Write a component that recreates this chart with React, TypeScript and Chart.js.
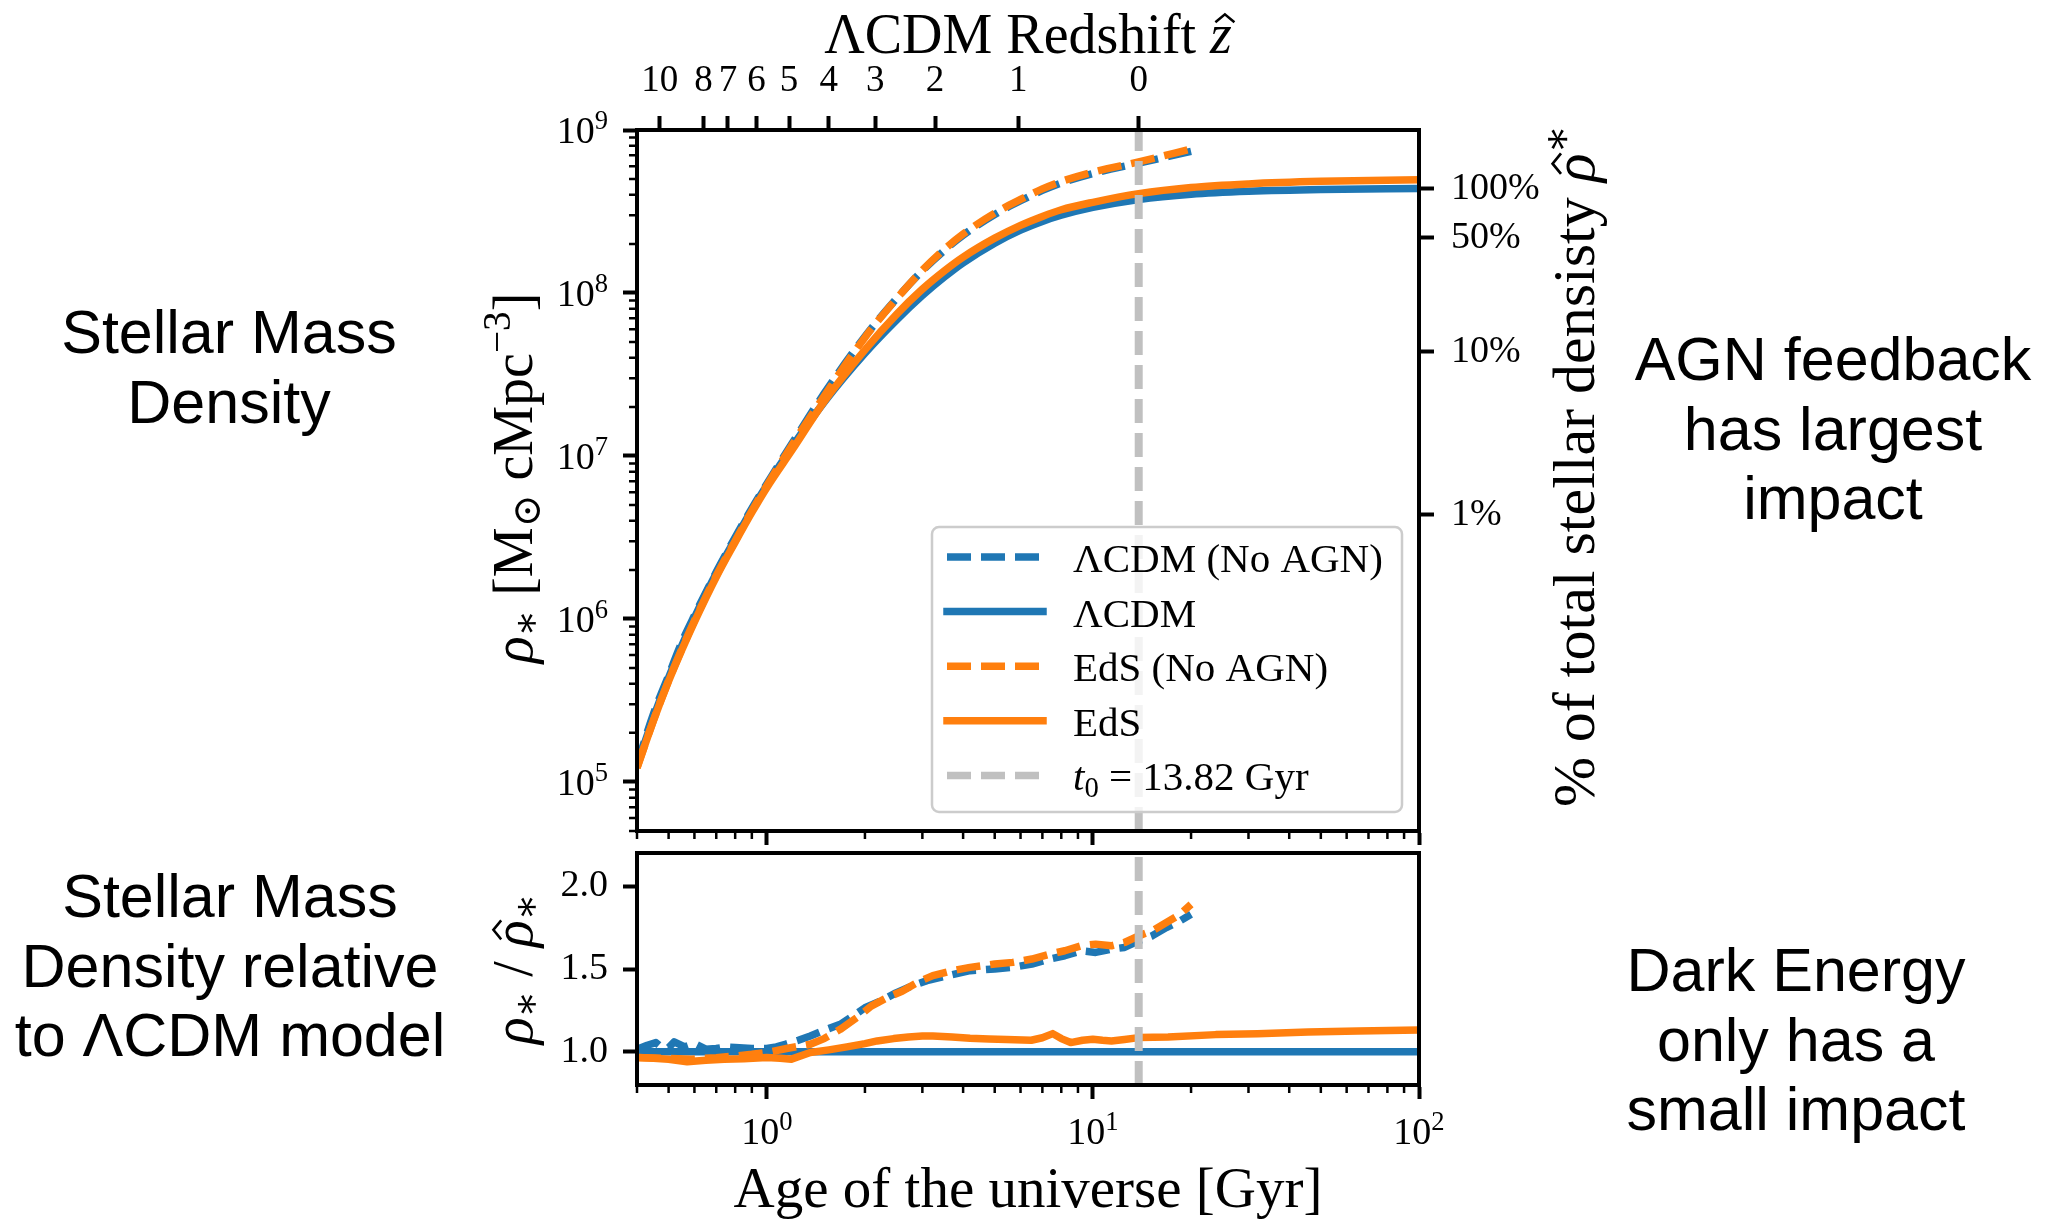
import React, { useEffect, useRef } from 'react';
import { Chart, registerables } from 'chart.js';

Chart.register(...registerables);

// ---------------- data ----------------
// Upper panel: stellar mass density [Msun cMpc^-3] vs age of the universe [Gyr]
const AGES = [0.4, 0.45, 0.5, 0.55, 0.6, 0.7, 0.8, 0.9, 1.0, 1.2, 1.5, 2.0, 2.5, 3.0, 3.5, 4.0, 5.0, 6.0, 7.0, 8.0, 10, 13.82, 20, 30, 50, 100];
const RHO_LCDM = [1.26e5, 2.51e5, 4.37e5, 6.92e5, 1.02e6, 1.91e6, 3.09e6, 4.68e6, 6.61e6, 1.15e7, 2.14e7, 4.27e7, 6.82e7, 9.64e7, 1.25e8, 1.53e8, 2.02e8, 2.43e8, 2.75e8, 3.00e8, 3.35e8, 3.75e8, 4.04e8, 4.21e8, 4.32e8, 4.38e8];
const RHO_EDS = [1.22e5, 2.40e5, 4.15e5, 6.52e5, 9.6e5, 1.81e6, 2.96e6, 4.50e6, 6.39e6, 1.10e7, 2.16e7, 4.48e7, 7.40e7, 1.056e8, 1.365e8, 1.66e8, 2.17e8, 2.60e8, 2.95e8, 3.24e8, 3.60e8, 4.07e8, 4.44e8, 4.67e8, 4.84e8, 4.96e8];
const AGES_NO_AGN = [0.4, 0.45, 0.5, 0.55, 0.6, 0.7, 0.8, 0.9, 1.0, 1.2, 1.5, 2.0, 2.5, 3.0, 3.5, 4.0, 5.0, 6.0, 7.0, 8.0, 10, 13.82, 20];
const RHO_LCDM_NO_AGN = [1.28e5, 2.64e5, 4.50e5, 7.27e5, 1.05e6, 1.94e6, 3.17e6, 4.77e6, 6.74e6, 1.21e7, 2.42e7, 5.41e7, 9.25e7, 1.37e8, 1.82e8, 2.26e8, 3.03e8, 3.68e8, 4.26e8, 4.73e8, 5.41e8, 6.26e8, 7.39e8];
const RHO_EDS_NO_AGN = [1.22e5, 2.41e5, 4.19e5, 6.6e5, 9.75e5, 1.84e6, 3.01e6, 4.6e6, 6.58e6, 1.18e7, 2.33e7, 5.34e7, 9.21e7, 1.38e8, 1.85e8, 2.30e8, 3.09e8, 3.75e8, 4.35e8, 4.83e8, 5.51e8, 6.38e8, 7.64e8];

// Lower panel: ratio to the LCDM model
const RATIO_LCDM_AGES = [0.4, 100];
const RATIO_LCDM = [1.0, 1.0];
const RATIO_EDS_AGES = [0.4, 0.45, 0.5, 0.57, 0.65, 0.74, 0.85, 1.0, 1.1, 1.19, 1.36, 1.55, 1.76, 2.0, 2.18, 2.45, 2.72, 3.0, 3.23, 3.7, 4.2, 4.8, 5.44, 6.47, 7.0, 7.53, 8.0, 8.55, 9.3, 10, 10.7, 11.4, 12.5, 13.82, 17, 23.8, 32, 45.7, 65, 100];
const RATIO_EDS = [0.966, 0.962, 0.955, 0.94, 0.95, 0.956, 0.958, 0.966, 0.962, 0.956, 0.996, 1.012, 1.03, 1.05, 1.066, 1.08, 1.09, 1.095, 1.096, 1.09, 1.082, 1.078, 1.074, 1.07, 1.085, 1.11, 1.08, 1.056, 1.07, 1.076, 1.07, 1.066, 1.075, 1.086, 1.09, 1.104, 1.11, 1.12, 1.126, 1.132];
const RATIO_LCDM_NO_AGN_AGES = [0.4, 0.43, 0.457, 0.48, 0.5, 0.52, 0.56, 0.6, 0.65, 0.7, 0.75, 0.8, 0.9, 1.0, 1.07, 1.14, 1.25, 1.36, 1.5, 1.68, 1.85, 2.0, 2.25, 2.49, 2.8, 3.1, 3.6, 4.2, 5.0, 5.68, 6.5, 7.37, 8.2, 9.2, 10.2, 11.4, 12.5, 13.82, 15.2, 16.8, 18.5, 20];
const RATIO_LCDM_NO_AGN = [1.016, 1.04, 1.056, 1.02, 1.026, 1.06, 1.03, 1.05, 1.016, 1.02, 1.03, 1.026, 1.02, 1.02, 1.03, 1.046, 1.07, 1.096, 1.13, 1.166, 1.22, 1.266, 1.31, 1.356, 1.40, 1.43, 1.46, 1.49, 1.50, 1.51, 1.53, 1.56, 1.58, 1.61, 1.60, 1.62, 1.63, 1.67, 1.70, 1.75, 1.79, 1.83];
const RATIO_EDS_NO_AGN_AGES = [0.4, 0.5, 0.59, 0.7, 0.8, 0.9, 1.0, 1.15, 1.36, 1.5, 1.68, 1.9, 2.09, 2.35, 2.6, 2.9, 3.23, 3.7, 4.2, 5.0, 5.68, 6.5, 7.37, 8.2, 9.2, 10.2, 11.4, 12.5, 13.82, 15.2, 16.8, 18.5, 20];
const RATIO_EDS_NO_AGN = [0.966, 0.96, 0.956, 0.965, 0.975, 0.985, 0.996, 1.02, 1.046, 1.08, 1.136, 1.21, 1.276, 1.33, 1.366, 1.42, 1.46, 1.49, 1.51, 1.53, 1.54, 1.56, 1.59, 1.61, 1.64, 1.65, 1.64, 1.66, 1.70, 1.73, 1.78, 1.83, 1.89];

const T0 = 13.82;

// Axes / ticks
const Z_TICK_AGES = [0.47, 0.64, 0.76, 0.93, 1.17, 1.55, 2.15, 3.28, 5.9, 13.82];
const Z_TICK_LABELS = ['10', '8', '7', '6', '5', '4', '3', '2', '1', '0'];
const RHO_TOTAL = 4.35e8;
const PCT_FRACTIONS = [1, 0.5, 0.1, 0.01];
const PCT_LABELS = ['100%', '50%', '10%', '1%'];
const Y_MAIN_EXPONENTS = [5, 6, 7, 8, 9];
const X_EXPONENTS = [0, 1, 2];
const RATIO_TICKS = [1.0, 1.5, 2.0];
const MINOR_MANTISSAS = [2, 3, 4, 5, 6, 7, 8, 9];

const NOTES = [
  { lines: ['Stellar Mass', 'Density'], cx: 229, top: 298 },
  { lines: ['AGN feedback', 'has largest', 'impact'], cx: 1833, top: 325 },
  { lines: ['Stellar Mass', 'Density relative', 'to ΛCDM model'], cx: 230, top: 862 },
  { lines: ['Dark Energy', 'only has a', 'small impact'], cx: 1796, top: 936 },
];

// ---------------- style ----------------
const SERIF = '"Liberation Serif", "DejaVu Serif", serif';
const SANS = '"Liberation Sans", Arial, sans-serif';
const BLUE = '#1f77b4';
const ORANGE = '#ff7f0e';
const GRAY = '#c0c0c0';
const W = 2060;
const H = 1220;
const AREA1 = { left: 637, right: 1419, top: 130, bottom: 831 };
const AREA2 = { left: 637, right: 1419, top: 853, bottom: 1085 };
const TICK_FONT = 38;
const LINE_W = 7.5;
const DASH = [24, 10];

type Run = { t: string; s?: number; dy?: number; it?: boolean; hat?: boolean };

const TITLE_TOP: Run[] = [{ t: 'ΛCDM Redshift ' }, { t: 'z', it: true, hat: true }];
const YLABEL_MAIN: Run[] = [
  { t: 'ρ', it: true }, { t: '∗', s: 0.7, dy: 0.12 }, { t: ' [M' }, { t: '⊙', s: 0.7, dy: 0.15 },
  { t: ' cMpc' }, { t: '−3', s: 0.7, dy: -0.4 }, { t: ']' },
];
const YLABEL_RIGHT: Run[] = [{ t: '% of total stellar densisty ' }, { t: 'ρ', it: true, hat: true }, { t: '∗', s: 0.7, dy: -0.38 }];
const YLABEL_RATIO: Run[] = [
  { t: 'ρ', it: true }, { t: '∗', s: 0.7, dy: 0.12 }, { t: ' / ' }, { t: 'ρ', it: true, hat: true }, { t: '∗', s: 0.7, dy: 0.12 },
];
const XLABEL: Run[] = [{ t: 'Age of the universe [Gyr]' }];

const LEGEND_ITEMS: { runs: Run[]; color: string; dashed: boolean }[] = [
  { runs: [{ t: 'ΛCDM (No AGN)' }], color: BLUE, dashed: true },
  { runs: [{ t: 'ΛCDM' }], color: BLUE, dashed: false },
  { runs: [{ t: 'EdS (No AGN)' }], color: ORANGE, dashed: true },
  { runs: [{ t: 'EdS' }], color: ORANGE, dashed: false },
  { runs: [{ t: 't', it: true }, { t: '0', s: 0.7, dy: 0.15 }, { t: ' = 13.82 Gyr' }], color: GRAY, dashed: true },
];

function fontOf(r: Run, base: number) {
  return `${r.it ? 'italic ' : ''}${(base * (r.s ?? 1)).toFixed(2)}px ${SERIF}`;
}

function drawRuns(ctx: CanvasRenderingContext2D, runs: Run[], base: number, x: number, y: number, align: 'left' | 'center' | 'right') {
  let total = 0;
  const widths = runs.map((r) => {
    ctx.font = fontOf(r, base);
    const w = ctx.measureText(r.t).width;
    total += w;
    return w;
  });
  let cx = align === 'left' ? x : align === 'center' ? x - total / 2 : x - total;
  ctx.textAlign = 'left';
  ctx.textBaseline = 'alphabetic';
  ctx.fillStyle = '#000';
  runs.forEach((r, i) => {
    const size = base * (r.s ?? 1);
    const by = y + (r.dy ?? 0) * base;
    ctx.font = fontOf(r, base);
    ctx.fillText(r.t, cx, by);
    if (r.hat) {
      const hx = cx + widths[i] / 2 + (r.it ? 0.07 * size : 0);
      ctx.beginPath();
      ctx.moveTo(hx - 0.17 * size, by - 0.55 * size);
      ctx.lineTo(hx, by - 0.69 * size);
      ctx.lineTo(hx + 0.17 * size, by - 0.55 * size);
      ctx.lineWidth = 0.045 * size;
      ctx.strokeStyle = '#000';
      ctx.lineJoin = 'miter';
      ctx.stroke();
    }
    cx += widths[i];
  });
}

function drawRotated(ctx: CanvasRenderingContext2D, runs: Run[], base: number, x: number, y: number) {
  ctx.save();
  ctx.translate(x, y);
  ctx.rotate(-Math.PI / 2);
  drawRuns(ctx, runs, base, 0, 0, 'center');
  ctx.restore();
}

function series(xs: number[], ys: number[], color: string, dashed: boolean, order: number, label: string, smooth: boolean, width = LINE_W) {
  return {
    label,
    data: xs.map((x, i) => ({ x, y: ys[i] })),
    borderColor: color,
    backgroundColor: color,
    borderWidth: width,
    borderDash: dashed ? DASH : [],
    borderCapStyle: 'butt',
    borderJoinStyle: 'round',
    pointRadius: 0,
    pointHoverRadius: 0,
    showLine: true,
    fill: false,
    order,
    tension: 0,
    cubicInterpolationMode: smooth ? 'monotone' : 'default',
    clip: 0,
  };
}

const tickGrid = (len: number) => ({
  display: true,
  drawOnChartArea: false,
  drawTicks: true,
  tickLength: len,
  tickWidth: 4,
  tickColor: '#000',
});
const borderOpt = { display: true, color: '#000', width: 4 };

function minorValues(lo: number, hi: number) {
  const out: number[] = [];
  for (let d = Math.floor(Math.log10(lo)) - 1; d <= Math.ceil(Math.log10(hi)); d++) {
    for (const m of MINOR_MANTISSAS) {
      const v = m * Math.pow(10, d);
      if (v >= lo * 0.999 && v <= hi * 1.001) out.push(v);
    }
  }
  return out;
}

function drawFrameAndMinor(chart: any, yMinor: boolean) {
  const { ctx, chartArea: a, scales } = chart;
  ctx.save();
  ctx.strokeStyle = '#000';
  ctx.lineWidth = 4;
  ctx.strokeRect(a.left, a.top, a.right - a.left, a.bottom - a.top);
  ctx.lineWidth = 2.5;
  ctx.beginPath();
  for (const v of minorValues(scales.x.min, scales.x.max)) {
    const px = scales.x.getPixelForValue(v);
    ctx.moveTo(px, a.bottom);
    ctx.lineTo(px, a.bottom + 8);
  }
  if (yMinor) {
    for (const v of minorValues(scales.y.min, scales.y.max)) {
      const py = scales.y.getPixelForValue(v);
      ctx.moveTo(a.left, py);
      ctx.lineTo(a.left - 8, py);
    }
  }
  ctx.stroke();
  ctx.restore();
}

const plugin1 = {
  id: 'decorMain',
  afterDatasetsDraw(chart: any) {
    drawFrameAndMinor(chart, true);
  },
  afterDraw(chart: any) {
    const { ctx, scales } = chart;
    ctx.save();
    // y tick labels 10^n
    for (const e of Y_MAIN_EXPONENTS) {
      const py = scales.y.getPixelForValue(Math.pow(10, e));
      drawRuns(ctx, [{ t: '10' }, { t: String(e), s: 0.7, dy: -0.36 }], TICK_FONT, 608, py + 13, 'right');
    }
    // titles
    drawRuns(ctx, TITLE_TOP, 56, 1028, 53, 'center');
    drawRotated(ctx, YLABEL_MAIN, 56, 532, 478);
    drawRotated(ctx, YLABEL_RIGHT, 60, 1594, 466);
    // legend
    const bx = 932, by = 527, bw = 470, bh = 285;
    ctx.beginPath();
    ctx.roundRect(bx, by, bw, bh, 7);
    ctx.fillStyle = 'rgba(255,255,255,0.8)';
    ctx.fill();
    ctx.strokeStyle = '#cccccc';
    ctx.lineWidth = 2.5;
    ctx.stroke();
    LEGEND_ITEMS.forEach((item, i) => {
      const ry = 557 + i * 54.6;
      ctx.beginPath();
      ctx.strokeStyle = item.color;
      ctx.lineWidth = LINE_W;
      ctx.setLineDash(item.dashed ? DASH : []);
      ctx.lineCap = item.dashed ? 'butt' : 'square';
      ctx.moveTo(947, ry);
      ctx.lineTo(item.dashed ? 1046 : 1043, ry);
      ctx.stroke();
      ctx.setLineDash([]);
      ctx.lineCap = 'butt';
      drawRuns(ctx, item.runs, 41, 1073, ry + 15, 'left');
    });
    ctx.restore();
  },
};

const plugin2 = {
  id: 'decorRatio',
  afterDatasetsDraw(chart: any) {
    drawFrameAndMinor(chart, false);
  },
  afterDraw(chart: any) {
    const { ctx, scales } = chart;
    ctx.save();
    for (const e of X_EXPONENTS) {
      const px = scales.x.getPixelForValue(Math.pow(10, e));
      drawRuns(ctx, [{ t: '10' }, { t: String(e), s: 0.7, dy: -0.36 }], TICK_FONT, px, 1144, 'center');
    }
    drawRuns(ctx, XLABEL, 57, 1028, 1207, 'center');
    drawRotated(ctx, YLABEL_RATIO, 56, 532, 969);
    ctx.restore();
  },
};

function baseOptions() {
  return {
    responsive: false,
    maintainAspectRatio: false,
    animation: false as const,
    devicePixelRatio: 1,
    events: [] as any[],
    plugins: { legend: { display: false }, tooltip: { enabled: false } },
  };
}

function mainConfig(): any {
  return {
    type: 'scatter',
    data: {
      datasets: [
        series([T0, T0], [5e4, 1e9], GRAY, true, 0, 't0 = 13.82 Gyr', false, 8),
        series(AGES, RHO_EDS, ORANGE, false, 1, 'EdS', true),
        series(AGES_NO_AGN, RHO_EDS_NO_AGN, ORANGE, true, 2, 'EdS (No AGN)', true),
        series(AGES, RHO_LCDM, BLUE, false, 3, 'ΛCDM', true),
        series(AGES_NO_AGN, RHO_LCDM_NO_AGN, BLUE, true, 4, 'ΛCDM (No AGN)', true),
      ],
    },
    options: {
      ...baseOptions(),
      layout: { padding: 0 },
      scales: {
        x: {
          type: 'logarithmic', position: 'bottom', min: 0.4, max: 100, bounds: 'data',
          afterBuildTicks: (s: any) => { s.ticks = X_EXPONENTS.map((e) => ({ value: Math.pow(10, e) })); },
          ticks: { display: false },
          grid: tickGrid(14), border: borderOpt,
          afterFit: (s: any) => { s.height = H - AREA1.bottom; },
        },
        xT: {
          type: 'logarithmic', position: 'top', min: 0.4, max: 100, bounds: 'data',
          afterBuildTicks: (s: any) => { s.ticks = Z_TICK_AGES.map((v) => ({ value: v })); },
          ticks: {
            display: true, autoSkip: false, maxRotation: 0, minRotation: 0, padding: 13, color: '#000',
            font: { family: SERIF, size: 37 },
            callback: (_v: any, i: number) => Z_TICK_LABELS[i],
          },
          grid: tickGrid(14), border: borderOpt,
          afterFit: (s: any) => { s.height = AREA1.top; },
        },
        y: {
          type: 'logarithmic', position: 'left', min: 5e4, max: 1e9, bounds: 'data',
          afterBuildTicks: (s: any) => { s.ticks = Y_MAIN_EXPONENTS.map((e) => ({ value: Math.pow(10, e) })); },
          ticks: { display: false },
          grid: tickGrid(14), border: borderOpt,
          afterFit: (s: any) => { s.width = AREA1.left; },
        },
        yR: {
          type: 'logarithmic', position: 'right', min: 5e4, max: 1e9, bounds: 'data',
          afterBuildTicks: (s: any) => { s.ticks = PCT_FRACTIONS.map((f) => ({ value: RHO_TOTAL * f })); },
          ticks: {
            display: true, autoSkip: false, maxRotation: 0, padding: 17, color: '#000',
            font: { family: SERIF, size: TICK_FONT },
            callback: (_v: any, i: number) => PCT_LABELS[i],
          },
          grid: tickGrid(15), border: borderOpt,
          afterFit: (s: any) => { s.width = W - AREA1.right; },
        },
      },
    },
    plugins: [plugin1],
  };
}

function ratioConfig(): any {
  return {
    type: 'scatter',
    data: {
      datasets: [
        series([T0, T0], [0.8, 2.2], GRAY, true, 0, 't0', false, 8),
        series(RATIO_EDS_AGES, RATIO_EDS, ORANGE, false, 1, 'EdS', false),
        series(RATIO_EDS_NO_AGN_AGES, RATIO_EDS_NO_AGN, ORANGE, true, 2, 'EdS (No AGN)', false),
        series(RATIO_LCDM_AGES, RATIO_LCDM, BLUE, false, 3, 'ΛCDM', false),
        series(RATIO_LCDM_NO_AGN_AGES, RATIO_LCDM_NO_AGN, BLUE, true, 4, 'ΛCDM (No AGN)', false),
      ],
    },
    options: {
      ...baseOptions(),
      layout: { padding: { top: AREA2.top, right: W - AREA2.right, left: 0, bottom: 0 } },
      scales: {
        x: {
          type: 'logarithmic', position: 'bottom', min: 0.4, max: 100, bounds: 'data',
          afterBuildTicks: (s: any) => { s.ticks = X_EXPONENTS.map((e) => ({ value: Math.pow(10, e) })); },
          ticks: { display: false },
          grid: tickGrid(14), border: borderOpt,
          afterFit: (s: any) => { s.height = H - AREA2.bottom; },
        },
        y: {
          type: 'linear', position: 'left', min: 0.8, max: 2.2, bounds: 'data',
          afterBuildTicks: (s: any) => { s.ticks = RATIO_TICKS.map((v) => ({ value: v })); },
          ticks: {
            display: true, autoSkip: false, padding: 15, color: '#000',
            font: { family: SERIF, size: TICK_FONT },
            callback: (v: any) => Number(v).toFixed(1),
          },
          grid: tickGrid(14), border: borderOpt,
          afterFit: (s: any) => { s.width = AREA2.left; },
        },
      },
    },
    plugins: [plugin2],
  };
}

export default function App() {
  const c1 = useRef<HTMLCanvasElement>(null);
  const c2 = useRef<HTMLCanvasElement>(null);

  useEffect(() => {
    const ch1 = new Chart(c1.current as HTMLCanvasElement, mainConfig());
    const ch2 = new Chart(c2.current as HTMLCanvasElement, ratioConfig());
    return () => {
      ch1.destroy();
      ch2.destroy();
    };
  }, []);

  return (
    <div style={{ position: 'absolute', left: 0, top: 0, width: W, height: H, background: '#fff', overflow: 'hidden' }}>
      <canvas ref={c1} width={W} height={H} style={{ position: 'absolute', left: 0, top: 0 }} />
      <canvas ref={c2} width={W} height={H} style={{ position: 'absolute', left: 0, top: 0 }} />
      {NOTES.map((n, i) => (
        <div
          key={i}
          style={{
            position: 'absolute',
            left: n.cx - 300,
            top: n.top,
            width: 600,
            textAlign: 'center',
            fontFamily: SANS,
            fontSize: 61,
            lineHeight: '69.5px',
            color: '#000',
            whiteSpace: 'nowrap',
          }}
        >
          {n.lines.map((l, j) => (
            <div key={j}>{l}</div>
          ))}
        </div>
      ))}
    </div>
  );
}
